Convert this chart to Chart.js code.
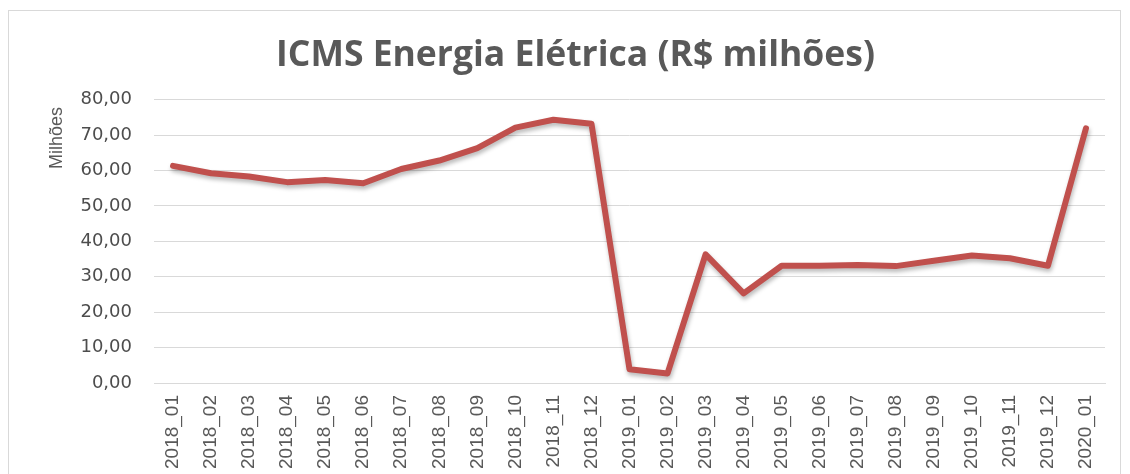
<!DOCTYPE html>
<html>
<head>
<meta charset="utf-8">
<script src="https://cdn.jsdelivr.net/npm/chart.js@4.4.0/dist/chart.umd.min.js"></script>
<style>
  html, body { margin: 0; padding: 0; background: #ffffff; }
  #frame { position: absolute; left: 8px; top: 10px; width: 1113px; height: 470px; border: 1px solid #d9d9d9; box-sizing: border-box; }
  #wrap { position: absolute; left: 0; top: 0; width: 1130px; height: 474px; }
</style>
</head>
<body>
<div id="frame"></div>
<div id="wrap"><canvas id="c" width="1130" height="474"></canvas></div>
<script>
const categories = ["2018_01","2018_02","2018_03","2018_04","2018_05","2018_06","2018_07","2018_08","2018_09","2018_10","2018_11","2018_12",
  "2019_01","2019_02","2019_03","2019_04","2019_05","2019_06","2019_07","2019_08","2019_09","2019_10","2019_11","2019_12","2020_01"];
const icmsValues = [61.3, 59.2, 58.3, 56.7, 57.3, 56.4, 60.4, 62.8, 66.3, 72.1, 74.3, 73.2,
  3.9, 2.7, 36.3, 25.3, 33.1, 33.1, 33.3, 33.0, 34.5, 36.0, 35.2, 33.1, 71.9];
const yTicks = [0, 10, 20, 30, 40, 50, 60, 70, 80];
const titleText = "ICMS Energia Elétrica (R$ milhões)";
const unitLabel = "Milhões";

const unitPlugin = {
  id: 'unitLabel',
  afterDraw(chart) {
    const ctx = chart.ctx;
    ctx.save();
    ctx.translate(57, 138);
    ctx.rotate(-Math.PI / 2);
    ctx.fillStyle = '#595959';
    ctx.font = '18px "Liberation Sans", Arial, sans-serif';
    ctx.textAlign = 'center';
    ctx.textBaseline = 'middle';
    ctx.fillText(unitLabel, 0, 0);
    ctx.restore();
  }
};

const shadowPlugin = {
  id: 'lineShadow',
  beforeDatasetDraw(chart) {
    const ctx = chart.ctx;
    ctx.save();
    ctx.shadowColor = 'rgba(0,0,0,0.28)';
    ctx.shadowBlur = 4;
    ctx.shadowOffsetX = 1;
    ctx.shadowOffsetY = 3;
  },
  afterDatasetDraw(chart) {
    chart.ctx.restore();
  }
};

new Chart(document.getElementById('c'), {
  type: 'line',
  data: {
    labels: categories,
    datasets: [{
      data: icmsValues,
      borderColor: '#C0504D',
      borderWidth: 6,
      pointRadius: 0,
      tension: 0,
      borderJoinStyle: 'round',
      borderCapStyle: 'round',
      fill: false
    }]
  },
  options: {
    responsive: false,
    animation: false,
    layout: { padding: { left: 46, right: 25, top: 0, bottom: 0 } },
    plugins: {
      legend: { display: false },
      tooltip: { enabled: false },
      title: {
        display: true,
        text: titleText,
        color: '#595959',
        font: { family: '"Open Sans"', weight: 'bold', size: 35.5 },
        padding: { top: 35, bottom: 22 }
      }
    },
    scales: {
      x: {
        offset: true,
        afterFit(scale) { scale.height = 91; },
        grid: { display: false, drawTicks: false },
        border: { display: true, color: '#d9d9d9', width: 1 },
        ticks: {
          color: '#595959',
          font: { family: '"Liberation Sans", Arial, sans-serif', size: 19 },
          minRotation: 90, maxRotation: 90,
          padding: 12,
          autoSkip: false
        }
      },
      y: {
        min: 0, max: 80,
        afterFit(scale) { scale.width = 108; },
        afterBuildTicks(scale) { scale.ticks = yTicks.map(v => ({ value: v })); },
        grid: { color: '#d9d9d9', lineWidth: 1, drawTicks: false },
        border: { display: false },
        ticks: {
          color: '#4d4d4d',
          font: { family: '"DejaVu Sans", sans-serif', size: 18 },
          padding: 22,
          callback: v => v.toFixed(2).replace('.', ',')
        }
      }
    }
  },
  plugins: [unitPlugin, shadowPlugin]
});
</script>
</body>
</html>
